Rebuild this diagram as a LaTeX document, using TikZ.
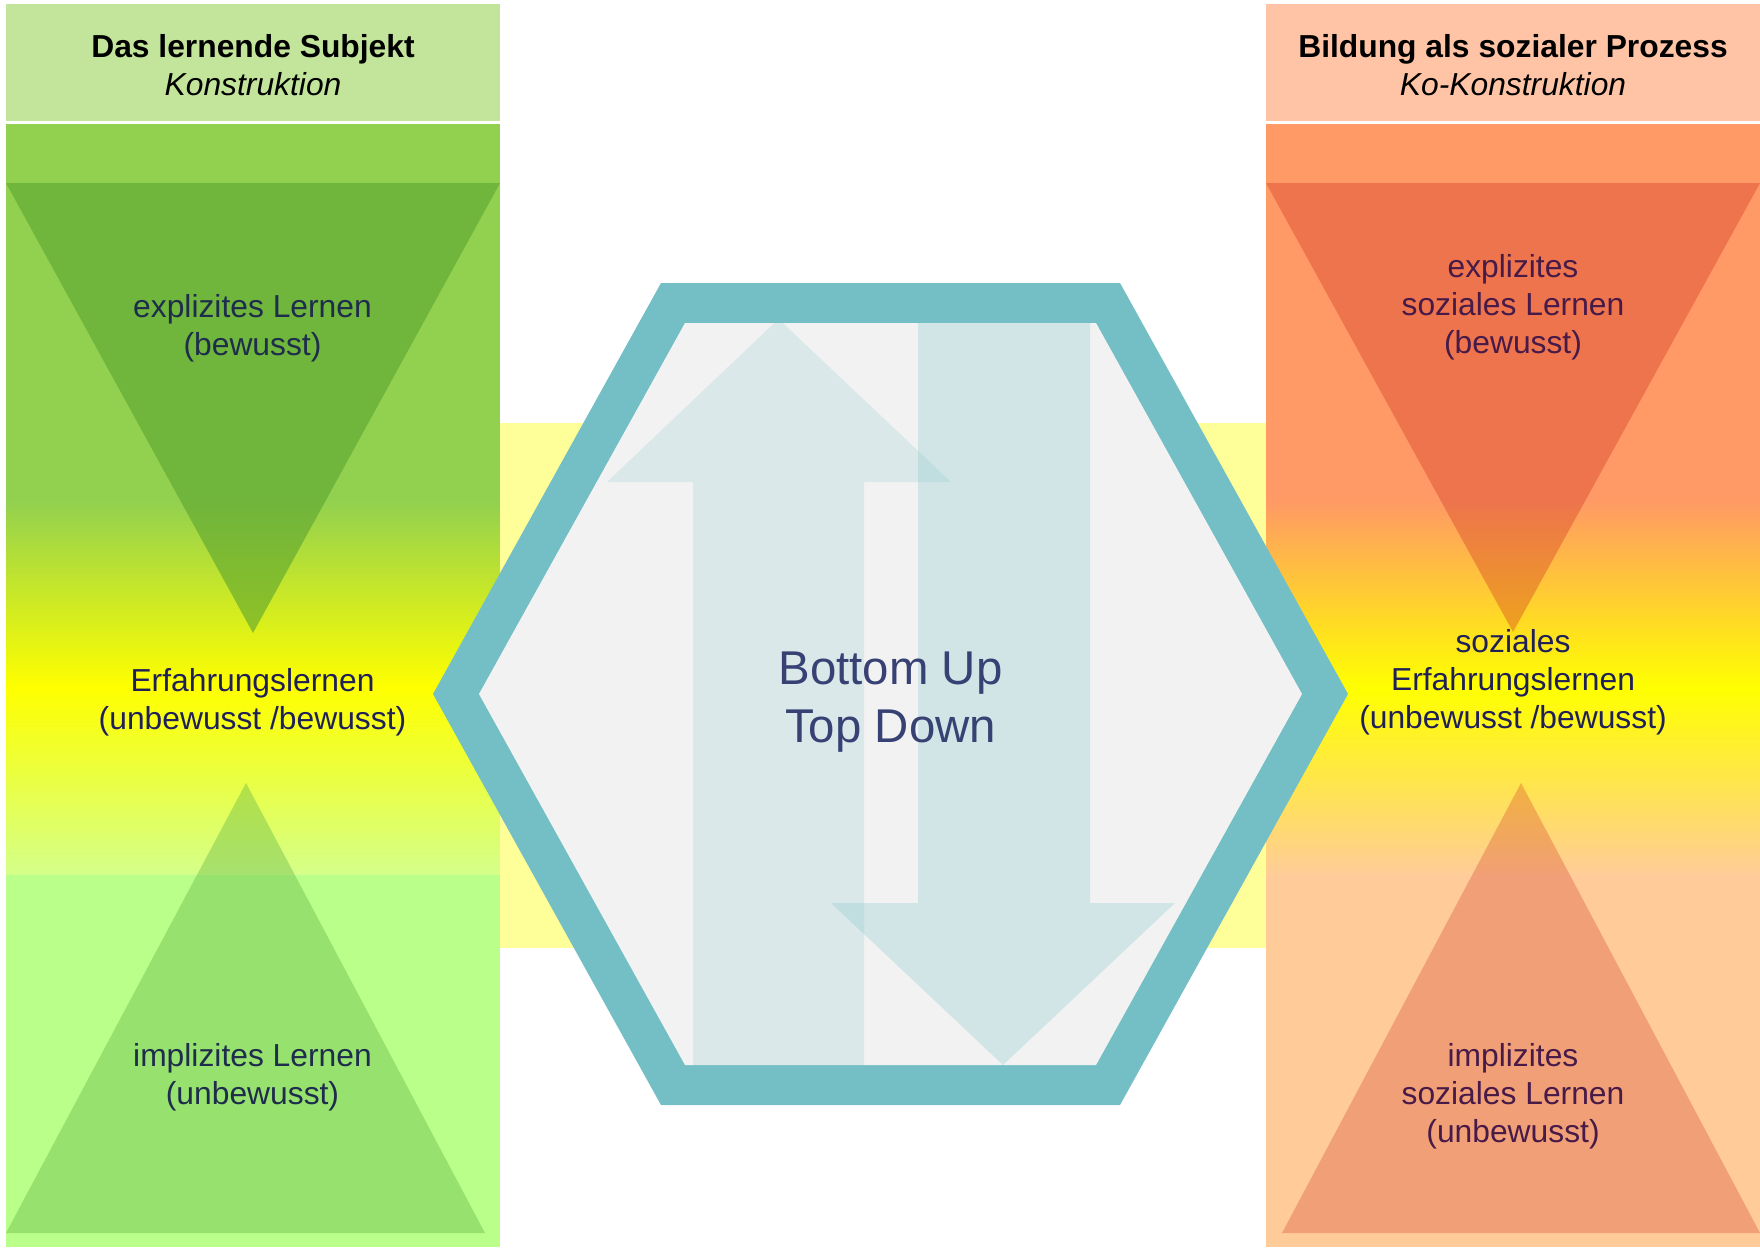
\documentclass[tikz,border=0pt]{standalone}
\usepackage{fontspec}
\setmainfont{Liberation Sans}
\definecolor{hdrgreen}{RGB}{195,229,155}
\definecolor{hdrorange}{RGB}{255,196,166}
\definecolor{colgreen}{RGB}{146,208,80}
\definecolor{colgreenlight}{RGB}{212,255,138}
\definecolor{colgreenbottom}{RGB}{185,255,138}
\definecolor{colorange}{RGB}{255,153,102}
\definecolor{colorangelight}{RGB}{255,204,153}
\definecolor{bandyellow}{RGB}{255,255,153}
\definecolor{hexteal}{RGB}{115,191,197}
\definecolor{hexinner}{RGB}{242,242,242}
\definecolor{trigreen}{RGB}{90,163,47}
\definecolor{trigreenlow}{RGB}{100,180,70}
\definecolor{trired}{RGB}{205,45,29}
\definecolor{txtgreen}{RGB}{30,45,75}
\definecolor{txtnavy}{RGB}{32,32,88}
\definecolor{txtpurple}{RGB}{72,26,72}
\definecolor{txthex}{RGB}{55,65,115}
\begin{document}
\begin{tikzpicture}[x=0.5pt,y=-0.5pt,
  lbl/.style={align=center, inner sep=0pt, font=\fontsize{15.9pt}{19pt}\selectfont},
  hdrtext/.style={lbl, text=black},
  hexlbl/.style={align=center, inner sep=0pt, text=txthex, font=\fontsize{23.7pt}{29.35pt}\selectfont},
  arrowup/.style={fill=hexteal, fill opacity=0.19},
  arrowdown/.style={fill=hexteal, fill opacity=0.25}]
\useasboundingbox (0,0) rectangle (1760,1248);
% headers
\fill[hdrgreen] (6,4) rectangle (500,121);
\fill[hdrorange] (1266,4) rectangle (1760,121);
% left column
\fill[colgreen] (6,124) rectangle (500,501);
\shade[top color=colgreen, bottom color=colgreenlight, middle color=yellow] (6,500) rectangle (500,875);
\fill[colgreenbottom] (6,875) rectangle (500,1247);
% right column
\fill[colorange] (1266,124) rectangle (1760,501);
\shade[top color=colorange, bottom color=colorangelight, middle color=yellow] (1266,500) rectangle (1760,876);
\fill[colorangelight] (1266,875) rectangle (1760,1247);
% triangles
\fill[trigreen, fill opacity=0.6] (6,183) -- (500,183) -- (253,633) -- cycle;
\fill[trigreenlow, fill opacity=0.4] (6,1233) -- (485,1233) -- (246,783) -- cycle;
\fill[trired, fill opacity=0.34] (1266,183) -- (1760,183) -- (1513,632) -- cycle;
\fill[trired, fill opacity=0.28] (1282,1233) -- (1760,1233) -- (1521,783) -- cycle;
% yellow band
\fill[bandyellow] (500,423) rectangle (1266,948);
% hexagon
\fill[hexteal] (661,283) -- (1120,283) -- (1348,694) -- (1120,1105) -- (661,1105) -- (433,694) -- cycle;
\fill[hexinner] (685,323) -- (1096,323) -- (1302,694) -- (1096,1065) -- (685,1065) -- (479,694) -- cycle;
% arrows
\fill[arrowup] (693,1066) -- (693,482) -- (607,482) -- (778.5,319) -- (951,482) -- (864,482) -- (864,1066) -- cycle;
\fill[arrowdown] (918,318) -- (1090,318) -- (1090,903) -- (1175,903) -- (1003,1065) -- (831,903) -- (918,903) -- cycle;
% texts
\node[hdrtext] (hl) at (253,65.3) {\textbf{Das lernende Subjekt}\\\textit{Konstruktion}};
\node[hdrtext] (hr) at (1513,65.3) {\textbf{Bildung als sozialer Prozess}\\\textit{Ko-Konstruktion}};
\node[lbl, text=txtgreen] (le) at (252.5,328) {explizites Lernen\\(bewusst)};
\node[lbl, text=txtnavy] (lm) at (252.5,702.2) {Erfahrungslernen\\(unbewusst /bewusst)};
\node[lbl, text=txtgreen] (li) at (252.5,1077) {implizites Lernen\\(unbewusst)};
\node[lbl, text=txtpurple] (re) at (1513,307.7) {explizites\\soziales Lernen\\(bewusst)};
\node[lbl, text=txtnavy] (rm) at (1513,682.7) {soziales\\Erfahrungslernen\\(unbewusst /bewusst)};
\node[lbl, text=txtpurple] (ri) at (1513,1096) {implizites\\soziales Lernen\\(unbewusst)};
\node[hexlbl] (hx) at (890.6,702) {Bottom Up\\Top Down};
\end{tikzpicture}
\end{document}
